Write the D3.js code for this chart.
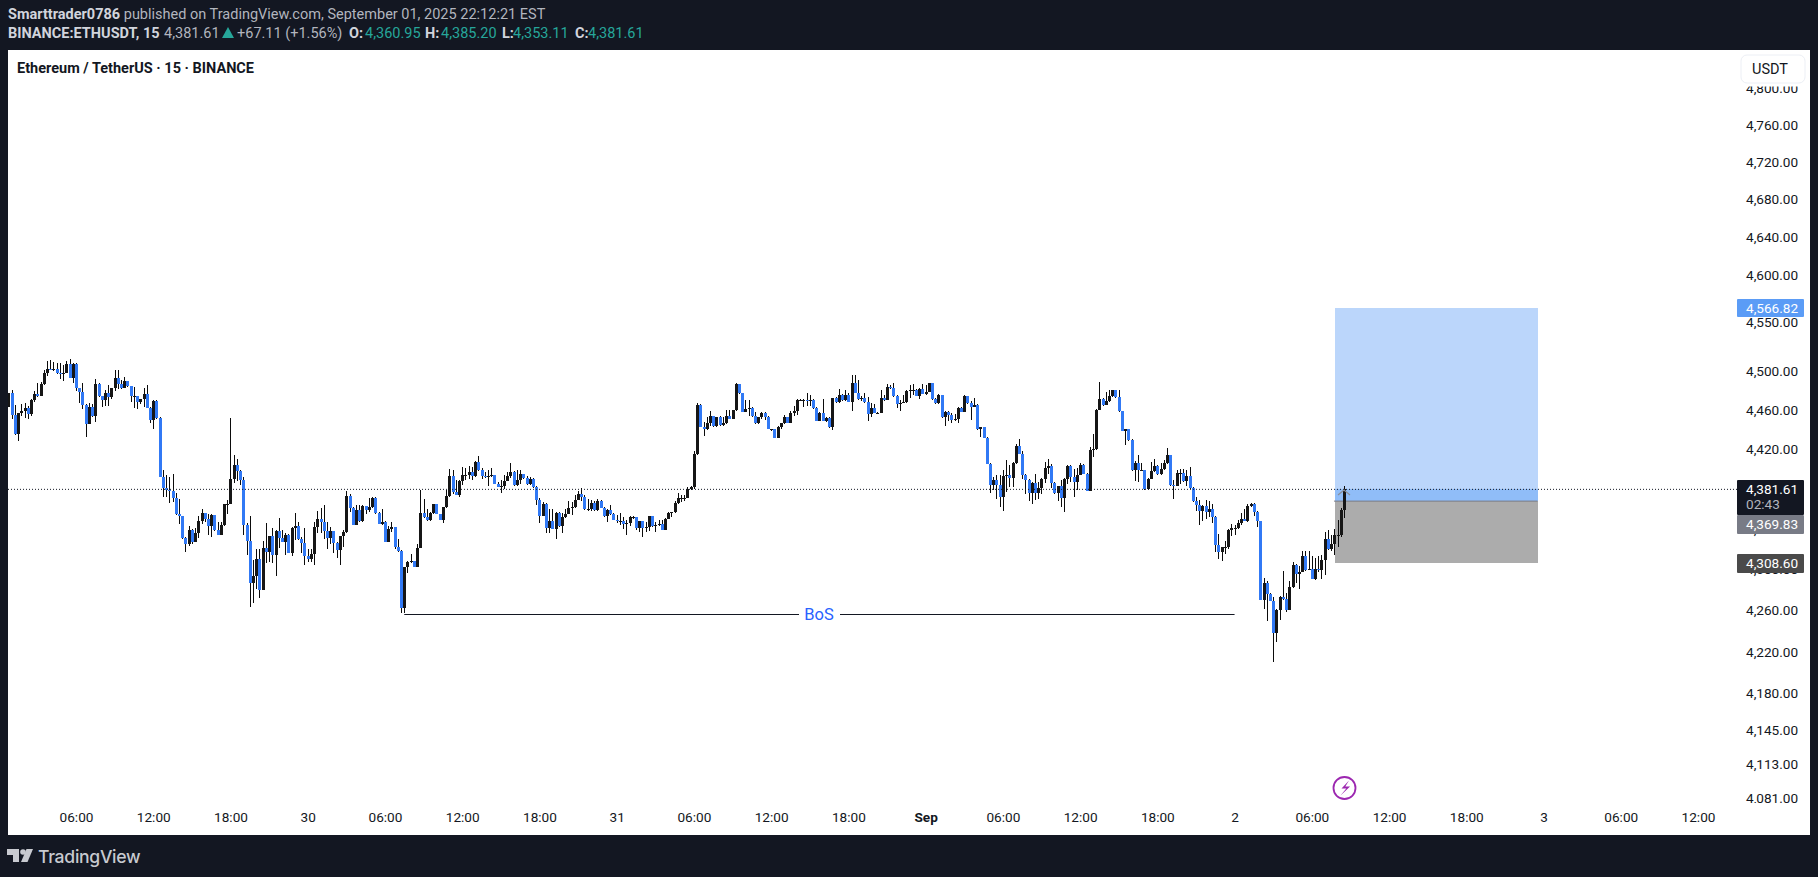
<!DOCTYPE html>
<html>
<head>
<meta charset="utf-8">
<title>ETHUSDT 15</title>
<script src="https://d3js.org/d3.v7.min.js"></script>
<style>
  html, body { margin: 0; padding: 0; background: #131722; overflow: hidden; }
  svg { display: block; font-family: Roboto, sans-serif; }
  .domain { display: none; }
</style>
</head>
<body>
<div id="chart"></div>
<script>
// ETHUSDT 15m candles
const firstOpen = 4465;

const closes = [
  4479,4457,4437,4459,4461,4464,4458,4472,4478,4476,
  4488,4500,4504,4503,4504,4500,4499,4500,4509,4495,
  4509,4484,4480,4467,4448,4465,4456,4488,4476,4472,
  4479,4475,4484,4495,4488,4484,4492,4486,4476,4476,
  4470,4473,4478,4464,4452,4471,4454,4394,4383,4381,
  4380,4373,4357,4355,4333,4327,4341,4329,4338,4350,
  4358,4352,4345,4356,4341,4336,4346,4367,4367,4392,
  4406,4400,4391,4346,4330,4289,4296,4312,4282,4323,
  4319,4335,4316,4340,4333,4329,4336,4318,4343,4345,
  4332,4328,4315,4312,4317,4344,4352,4349,4340,4333,
  4340,4328,4321,4335,4339,4375,4363,4346,4361,4350,
  4365,4361,4364,4373,4358,4347,4349,4329,4342,4344,
  4324,4320,4264,4304,4309,4310,4304,4323,4358,4354,
  4351,4358,4367,4357,4351,4364,4375,4395,4379,4376,
  4390,4396,4396,4399,4395,4409,4401,4395,4394,4395,
  4396,4387,4384,4385,4390,4395,4399,4386,4391,4397,
  4393,4387,4392,4384,4371,4355,4367,4343,4350,4342,
  4358,4345,4354,4357,4363,4364,4371,4377,4374,4362,
  4362,4368,4361,4370,4363,4355,4361,4357,4351,4350,
  4350,4347,4348,4354,4354,4343,4350,4343,4344,4355,
  4345,4346,4347,4341,4352,4358,4359,4368,4373,4373,
  4373,4382,4384,4417,4467,4445,4442,4449,4456,4446,
  4455,4447,4449,4456,4453,4462,4488,4479,4460,4463,
  4464,4456,4449,4455,4459,4455,4443,4443,4433,4445,
  4449,4455,4449,4459,4461,4472,4472,4472,4471,4472,
  4464,4451,4459,4451,4454,4445,4474,4470,4477,4472,
  4477,4470,4489,4479,4473,4474,4470,4458,4464,4459,
  4459,4474,4472,4485,4484,4476,4468,4469,4470,4481,
  4482,4482,4476,4483,4478,4480,4489,4473,4469,4477,
  4455,4460,4457,4452,4453,4464,4460,4476,4469,4465,
  4467,4442,4445,4433,4407,4386,4391,4386,4374,4395,
  4396,4393,4408,4425,4417,4396,4391,4378,4388,4378,
  4383,4392,4403,4405,4388,4378,4385,4373,4392,4405,
  4394,4389,4396,4406,4397,4380,4421,4422,4462,4473,
  4467,4471,4476,4482,4475,4461,4440,4442,4431,4401,
  4408,4401,4401,4382,4392,4400,4405,4397,4402,4408,
  4416,4386,4385,4398,4398,4390,4395,4383,4370,4366,
  4360,4365,4359,4362,4354,4326,4319,4324,4324,4341,
  4343,4343,4348,4352,4350,4365,4367,4359,4350,4272,
  4289,4278,4271,4240,4262,4275,4273,4262,4285,4306,
  4298,4300,4315,4302,4303,4293,4303,4302,4311,4332,
  4322,4327,4336,4336,4360.95,4381.61
];

const highs = [
  4479,4482,4467,4459,4468,4469,4466,4473,4481,4489,
  4491,4503,4512,4513,4511,4510,4510,4508,4512,4514,
  4510,4510,4484,4489,4468,4469,4468,4494,4489,4476,
  4482,4487,4484,4503,4503,4493,4496,4492,4486,4485,
  4476,4473,4484,4487,4465,4472,4472,4455,4401,4396,
  4394,4397,4378,4372,4355,4334,4345,4342,4343,4355,
  4362,4358,4357,4357,4356,4349,4349,4367,4371,4454,
  4416,4412,4401,4394,4348,4355,4311,4322,4322,4330,
  4348,4335,4343,4341,4353,4341,4338,4337,4344,4358,
  4349,4334,4343,4322,4322,4349,4360,4363,4366,4349,
  4344,4340,4329,4335,4341,4380,4377,4364,4366,4366,
  4366,4365,4373,4374,4374,4359,4362,4350,4345,4349,
  4344,4332,4321,4304,4310,4317,4310,4327,4381,4372,
  4362,4359,4367,4367,4357,4364,4381,4402,4401,4391,
  4391,4404,4403,4405,4404,4410,4415,4403,4399,4401,
  4403,4396,4389,4391,4396,4399,4408,4400,4401,4401,
  4397,4395,4394,4393,4385,4373,4369,4368,4362,4362,
  4359,4359,4358,4362,4370,4369,4376,4380,4383,4376,
  4372,4371,4370,4372,4371,4364,4362,4366,4358,4356,
  4358,4354,4351,4355,4355,4354,4350,4350,4349,4355,
  4355,4349,4351,4351,4353,4359,4359,4370,4378,4376,
  4376,4384,4385,4420,4469,4468,4450,4455,4461,4456,
  4455,4456,4455,4462,4462,4462,4490,4488,4479,4472,
  4472,4465,4460,4455,4460,4460,4456,4443,4443,4446,
  4449,4457,4455,4461,4466,4473,4473,4473,4479,4477,
  4473,4465,4460,4473,4455,4455,4474,4475,4483,4478,
  4482,4479,4498,4498,4493,4476,4479,4475,4469,4468,
  4460,4482,4477,4488,4487,4489,4477,4472,4477,4482,
  4487,4488,4483,4484,4488,4487,4490,4489,4474,4478,
  4477,4461,4461,4459,4458,4465,4465,4477,4476,4471,
  4474,4468,4445,4445,4434,4408,4394,4396,4396,4401,
  4411,4406,4409,4427,4432,4420,4397,4392,4389,4397,
  4389,4393,4409,4412,4407,4389,4385,4391,4393,4406,
  4406,4402,4403,4408,4407,4398,4424,4437,4463,4491,
  4474,4480,4482,4482,4482,4482,4461,4443,4443,4432,
  4410,4416,4408,4401,4393,4409,4412,4406,4408,4411,
  4423,4416,4391,4401,4402,4402,4401,4404,4384,4374,
  4371,4366,4371,4370,4367,4355,4337,4324,4330,4342,
  4347,4346,4351,4358,4362,4367,4368,4368,4360,4350,
  4294,4291,4279,4275,4263,4276,4301,4279,4291,4309,
  4307,4305,4320,4320,4320,4315,4313,4315,4316,4339,
  4341,4336,4342,4351,4363,4385.20
];

const lows = [
  4465,4453,4436,4430,4456,4454,4453,4456,4470,4475,
  4476,4487,4497,4503,4502,4499,4494,4492,4500,4495,
  4490,4481,4469,4463,4434,4448,4455,4450,4475,4465,
  4466,4466,4473,4481,4483,4483,4484,4485,4470,4464,
  4463,4468,4465,4464,4449,4443,4453,4394,4374,4374,
  4368,4369,4356,4347,4332,4319,4325,4327,4329,4333,
  4347,4349,4336,4334,4340,4336,4336,4345,4357,4367,
  4388,4390,4386,4336,4316,4265,4269,4283,4274,4282,
  4308,4309,4308,4296,4323,4329,4316,4318,4315,4331,
  4331,4318,4306,4309,4309,4306,4338,4338,4332,4322,
  4327,4318,4313,4306,4324,4338,4359,4346,4346,4349,
  4349,4357,4359,4363,4357,4347,4346,4329,4330,4339,
  4322,4319,4259,4259,4299,4308,4304,4304,4323,4353,
  4350,4350,4357,4357,4351,4348,4363,4374,4377,4376,
  4374,4386,4391,4392,4391,4394,4400,4392,4393,4385,
  4394,4387,4384,4378,4382,4390,4393,4385,4385,4387,
  4392,4386,4386,4383,4366,4348,4355,4338,4338,4342,
  4332,4344,4338,4353,4357,4356,4363,4371,4370,4361,
  4360,4360,4360,4360,4363,4354,4349,4356,4351,4348,
  4346,4342,4336,4345,4352,4341,4339,4334,4339,4340,
  4344,4339,4345,4341,4341,4352,4354,4358,4367,4369,
  4370,4373,4381,4382,4416,4445,4435,4441,4446,4445,
  4445,4446,4446,4448,4453,4453,4461,4478,4460,4460,
  4456,4455,4448,4448,4453,4452,4442,4440,4433,4433,
  4443,4448,4449,4449,4456,4457,4471,4465,4466,4466,
  4463,4451,4451,4451,4450,4444,4441,4469,4469,4471,
  4471,4470,4461,4479,4472,4471,4469,4451,4455,4459,
  4458,4459,4471,4472,4483,4475,4464,4461,4469,4469,
  4474,4477,4476,4473,4478,4477,4480,4472,4468,4468,
  4454,4446,4451,4449,4451,4449,4460,4460,4468,4452,
  4465,4441,4434,4433,4407,4378,4381,4372,4364,4360,
  4379,4384,4384,4407,4417,4392,4377,4370,4367,4371,
  4372,4377,4388,4397,4383,4377,4370,4364,4359,4387,
  4389,4374,4381,4396,4397,4380,4380,4414,4421,4462,
  4466,4467,4470,4475,4474,4460,4440,4426,4430,4400,
  4390,4389,4400,4381,4381,4392,4399,4396,4396,4401,
  4407,4385,4372,4385,4387,4389,4385,4382,4369,4360,
  4346,4350,4352,4354,4348,4319,4312,4310,4317,4322,
  4335,4336,4342,4346,4350,4349,4364,4355,4344,4272,
  4263,4252,4271,4212,4231,4253,4272,4260,4262,4284,
  4289,4283,4300,4301,4302,4293,4292,4300,4293,4297,
  4321,4320,4316,4324,4334,4353.11
];

const opens = [firstOpen, ...closes.slice(0, -1)];

// axes
const priceTicks = [4800, 4760, 4720, 4680, 4640, 4600, 4550, 4500, 4460, 4420, 4380, 4340, 4300, 4260, 4220, 4180, 4145, 4113, 4081];
const timeLabels = ['06:00', '12:00', '18:00', '30', '06:00', '12:00', '18:00', '31', '06:00', '12:00', '18:00', 'Sep', '06:00', '12:00', '18:00', '2', '06:00', '12:00', '18:00', '3', '06:00', '12:00'];
const firstTick = Date.UTC(2025, 7, 29, 6);
const lastTick = Date.UTC(2025, 8, 3, 12);
const firstBar = Date.UTC(2025, 7, 29, 0, 45);
const SIX_HOURS = 6 * 3600 * 1000;
const BAR_MS = 15 * 60 * 1000;
const tickDates = timeLabels.map((d, i) => new Date(firstTick + i * SIX_HOURS));
const barDates = closes.map((d, i) => new Date(firstBar + i * BAR_MS));

// levels on the chart
const lastPrice = 4381.61;
const targetPrice = 4566.82;
const entryPrice = 4369.83;
const stopPrice = 4308.60;
const bosPrice = 4258.5;
const bosStart = Date.UTC(2025, 7, 30, 7, 30);
const bosEnd = Date.UTC(2025, 8, 2, 0);
const posStart = Date.UTC(2025, 8, 2, 7, 48);
const posEnd = Date.UTC(2025, 8, 2, 23, 32);

const W = 1818, H = 877;
const plot = { left: 8, right: 1810, top: 50, bottom: 835 };
const tagX = 1737, tagW = 67;

const x = d3.scaleUtc().domain([firstTick, lastTick]).range([76, 1698]);
const y = d3.scaleLog().domain([4081, 4800]).range([800.1, 90.6]);

const svg = d3.select('#chart').append('svg').attr('width', W).attr('height', H);

svg.append('rect').attr('width', W).attr('height', H).attr('fill', '#131722');
svg.append('rect')
  .attr('x', plot.left).attr('y', plot.top)
  .attr('width', plot.right - plot.left).attr('height', plot.bottom - plot.top)
  .attr('fill', '#ffffff');

const defs = svg.append('defs');
defs.append('clipPath').attr('id', 'pane').append('rect')
  .attr('x', plot.left).attr('y', plot.top).attr('width', tagX - plot.left).attr('height', 803 - plot.top);
defs.append('clipPath').attr('id', 'scale').append('rect')
  .attr('x', tagX).attr('y', 86.5).attr('width', plot.right - tagX).attr('height', 803 - 86.5);

// header
const head = svg.append('g').attr('font-size', 14.5);
const line1 = head.append('text').attr('x', 8).attr('y', 19).attr('fill', '#b2b5be');
line1.append('tspan').attr('font-weight', 700).attr('fill', '#d1d4dc').text('Smarttrader0786');
line1.append('tspan').text(' published on TradingView.com, September 01, 2025 22:12:21 EST');

head.append('text').attr('x', 8).attr('y', 38).attr('font-weight', 700).attr('fill', '#d1d4dc').text('BINANCE:ETHUSDT, 15');
head.append('text').attr('x', 164).attr('y', 38).attr('fill', '#b2b5be').text('4,381.61');
head.append('path').attr('d', 'M228 27 L234 38 L222 38 Z').attr('fill', '#26a69a');
head.append('text').attr('x', 237).attr('y', 38).attr('fill', '#b2b5be').text('+67.11 (+1.56%)');

const ohlcLabels = ['O:', 'H:', 'L:', 'C:'];
const ohlcValues = ['4,360.95', '4,385.20', '4,353.11', '4,381.61'];
const ohlcLabelX = [349, 425, 502, 575];
const ohlcValueX = [365, 441, 513, 588];
ohlcLabels.forEach((d, i) => {
  head.append('text').attr('x', ohlcLabelX[i]).attr('y', 38).attr('font-weight', 700).attr('fill', '#d1d4dc').text(d);
  head.append('text').attr('x', ohlcValueX[i]).attr('y', 38).attr('fill', '#26a69a').text(ohlcValues[i]);
});

// title
svg.append('text').attr('x', 17).attr('y', 73)
  .attr('font-size', 14.5).attr('font-weight', 700).attr('fill', '#131722')
  .text('Ethereum / TetherUS · 15 · BINANCE');

// position box
const pane = svg.append('g').attr('clip-path', 'url(#pane)');
const boxL = x(posStart), boxR = x(posEnd);
pane.append('rect').attr('x', boxL).attr('y', y(targetPrice)).attr('width', boxR - boxL)
  .attr('height', y(entryPrice) - y(targetPrice)).attr('fill', '#bbd6fb').attr('shape-rendering', 'crispEdges');
pane.append('rect').attr('x', boxL).attr('y', y(lastPrice)).attr('width', boxR - boxL)
  .attr('height', y(entryPrice) - y(lastPrice)).attr('fill', '#90bdf8').attr('shape-rendering', 'crispEdges');
pane.append('rect').attr('x', boxL).attr('y', y(entryPrice)).attr('width', boxR - boxL)
  .attr('height', y(stopPrice) - y(entryPrice)).attr('fill', '#acacac').attr('shape-rendering', 'crispEdges');
pane.append('line').attr('x1', boxL - 1).attr('x2', boxR).attr('y1', y(entryPrice)).attr('y2', y(entryPrice))
  .attr('stroke', '#787b86').attr('stroke-width', 1);

// BoS line
const bosY = Math.round(y(bosPrice)) + 0.5;
pane.append('line').attr('x1', x(bosStart)).attr('x2', 799).attr('y1', bosY).attr('y2', bosY).attr('stroke', '#131722').attr('stroke-width', 1);
pane.append('line').attr('x1', 840).attr('x2', x(bosEnd)).attr('y1', bosY).attr('y2', bosY).attr('stroke', '#131722').attr('stroke-width', 1);
pane.append('text').attr('x', 819).attr('y', bosY + 5.5).attr('text-anchor', 'middle')
  .attr('font-size', 16.5).attr('fill', '#2962ff').text('BoS');

// candles
const candles = pane.selectAll('g.candle').data(closes).join('g').attr('class', 'candle')
  .attr('shape-rendering', 'crispEdges');

candles.append('rect')
  .attr('x', (d, i) => Math.round(x(barDates[i])))
  .attr('y', (d, i) => y(highs[i]))
  .attr('width', 1)
  .attr('height', (d, i) => Math.max(1, y(lows[i]) - y(highs[i])))
  .attr('fill', '#0b0b0b');

candles.append('rect')
  .attr('x', (d, i) => Math.round(x(barDates[i])) - 1)
  .attr('y', (d, i) => y(Math.max(opens[i], d)))
  .attr('width', 3)
  .attr('height', (d, i) => Math.max(1, Math.abs(y(opens[i]) - y(d))))
  .attr('fill', (d, i) => d >= opens[i] ? '#161616' : '#3179f5');

// last price line
pane.append('line').attr('x1', plot.left).attr('x2', tagX).attr('y1', y(lastPrice)).attr('y2', y(lastPrice))
  .attr('stroke', '#131722').attr('stroke-width', 1).attr('stroke-dasharray', '1 2');

// little handle on the position
pane.append('path').attr('d', 'M1338 495 L1344 490 L1350 495').attr('fill', 'none').attr('stroke', '#8b8f9a').attr('stroke-width', 1.2);

// price scale
const priceAxis = d3.axisRight(y).tickValues(priceTicks).tickFormat(d3.format(',.2f')).tickSize(0).tickPadding(0);
svg.append('g').attr('clip-path', 'url(#scale)')
  .append('g').attr('transform', 'translate(1746,-2)').call(priceAxis)
  .call(g => g.selectAll('text').attr('font-size', 13.6).attr('font-family', 'Roboto, sans-serif').attr('fill', '#131722'));

// time scale
const timeAxis = d3.axisBottom(x).tickValues(tickDates).tickFormat((d, i) => timeLabels[i]).tickSize(0).tickPadding(0);
svg.append('g').attr('transform', 'translate(0,812)').call(timeAxis)
  .call(g => g.selectAll('text').attr('font-size', 13.6).attr('font-family', 'Roboto, sans-serif').attr('fill', '#131722')
    .attr('font-weight', (d, i) => timeLabels[i] === 'Sep' ? 700 : 400));

// USDT button
svg.append('rect').attr('x', 1741).attr('y', 55).attr('width', 64).attr('height', 28).attr('rx', 6)
  .attr('fill', '#ffffff').attr('stroke', '#eceff5').attr('stroke-width', 1);
svg.append('text').attr('x', 1752).attr('y', 74).attr('font-size', 14.5).attr('fill', '#131722').text('USDT');

// price tags
const tags = [
  { top: 299, h: 18, fill: '#5b9cf6', label: '4,566.82' },
  { top: 480, h: 35, fill: '#131722', label: '4,381.61', sub: '02:43' },
  { top: 515, h: 19, fill: '#787b86', label: '4,369.83' },
  { top: 554, h: 19, fill: '#4a4a4a', label: '4,308.60' }
];
tags.forEach(t => {
  svg.append('rect').attr('x', tagX).attr('y', t.top).attr('width', tagW).attr('height', t.h).attr('rx', 1).attr('fill', t.fill);
  svg.append('text').attr('x', 1746).attr('y', t.top + 14).attr('font-size', 13.6).attr('fill', '#ffffff').text(t.label);
  if (t.sub) svg.append('text').attr('x', 1746).attr('y', t.top + 29).attr('font-size', 13.6).attr('fill', '#b2b5be').text(t.sub);
});

// purple bolt
const bolt = svg.append('g').attr('transform', 'translate(1344.5,788)');
bolt.append('circle').attr('r', 11).attr('fill', '#ffffff').attr('stroke', '#9c27b0').attr('stroke-width', 1.8);
bolt.append('path').attr('d', 'M4.5 -7.5 L-3 0.4 L1.8 0.4 L-4 7.5 L5.6 -1.4 L0.8 -1.4 Z').attr('fill', '#9c27b0');

// logo
const logo = svg.append('g').attr('fill', '#c8cad0');
logo.append('path').attr('d', 'M7 849h12v13h-6v-7h-6z');
logo.append('circle').attr('cx', 23).attr('cy', 852).attr('r', 2.8);
logo.append('path').attr('d', 'M26.5 849h6.5l-5.5 13h-6.5z');
logo.append('text').attr('x', 38).attr('y', 862.5).attr('font-family', 'Inter, sans-serif')
  .attr('font-size', 17.6).attr('font-weight', 500).attr('letter-spacing', -0.3).text('TradingView');
</script>
</body>
</html>
